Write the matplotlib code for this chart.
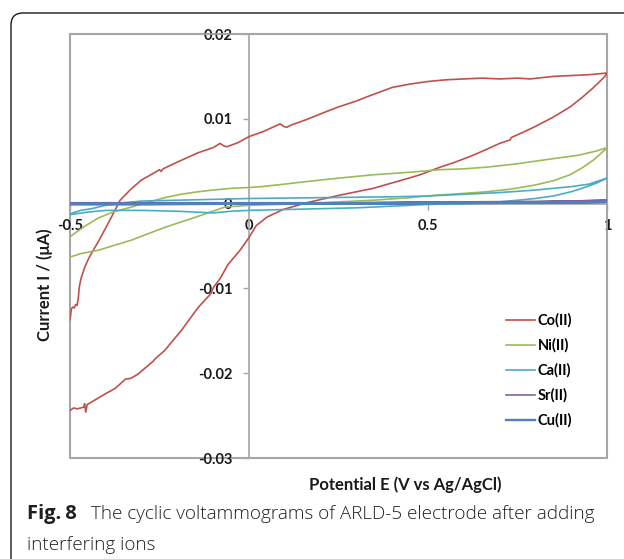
import matplotlib
matplotlib.use("Agg")
import matplotlib.pyplot as plt
from matplotlib.patches import FancyBboxPatch, Rectangle
from matplotlib.transforms import IdentityTransform

# cyclic voltammograms, potential (V) and current
co_e = [-0.500, -0.496, -0.492, -0.488, -0.484, -0.480, -0.477, -0.474, -0.469, -0.458,
        -0.447, -0.435, -0.421, -0.393, -0.360, -0.330, -0.300, -0.270, -0.250, -0.246,
        -0.240, -0.200, -0.142, -0.100, -0.081, -0.070, -0.062, -0.030, 0.000, 0.040,
        0.087, 0.097, 0.105, 0.120, 0.160, 0.207, 0.250, 0.300, 0.330, 0.400,
        0.450, 0.500, 0.550, 0.600, 0.650, 0.700, 0.750, 0.785, 0.850, 0.900,
        0.950, 1.000,
        0.994, 0.980, 0.960, 0.930, 0.897, 0.850, 0.800, 0.765, 0.733, 0.729,
        0.700, 0.664, 0.620, 0.570, 0.534, 0.478, 0.430, 0.347, 0.254, 0.161,
        0.095, 0.050, 0.020, 0.000, -0.025, -0.059, -0.080, -0.098, -0.102, -0.106,
        -0.141, -0.188, -0.235, -0.262, -0.268, -0.310, -0.330, -0.345, -0.374, -0.400,
        -0.440, -0.452, -0.456, -0.459, -0.462, -0.470, -0.480, -0.490, -0.500]
co_i = [-0.0137, -0.0124, -0.0122, -0.0123, -0.0119, -0.0120, -0.0112, -0.0098, -0.0088, -0.0074,
        -0.0064, -0.0055, -0.0045, -0.0023, 0.0004, 0.0017, 0.0028, 0.0035, 0.0040, 0.0038,
        0.0041, 0.0049, 0.0060, 0.0066, 0.0071, 0.0068, 0.0067, 0.0072, 0.0079, 0.0085,
        0.0094, 0.0091, 0.0090, 0.0093, 0.0099, 0.0107, 0.0114, 0.0121, 0.0126, 0.0137,
        0.0141, 0.0144, 0.0146, 0.0147, 0.0148, 0.0147, 0.0148, 0.0147, 0.0150, 0.0151,
        0.0152, 0.0154,
        0.0150, 0.0144, 0.0136, 0.0125, 0.0114, 0.0102, 0.0091, 0.0084, 0.0078, 0.0075,
        0.0071, 0.0064, 0.0056, 0.0048, 0.0043, 0.0034, 0.0028, 0.0018, 0.0010, 0.0001,
        -0.0007, -0.0016, -0.0026, -0.0040, -0.0055, -0.0072, -0.0088, -0.0098, -0.0101, -0.0106,
        -0.0122, -0.0149, -0.0173, -0.0183, -0.0186, -0.0201, -0.0206, -0.0207, -0.0218, -0.0224,
        -0.0234, -0.0237, -0.0246, -0.0236, -0.0240, -0.0241, -0.0242, -0.0241, -0.0244]

ni_e = [-0.500, -0.460, -0.421, -0.380, -0.328, -0.280, -0.235, -0.190, -0.142, -0.100,
        -0.049, 0.000, 0.035, 0.100, 0.161, 0.250, 0.347, 0.450, 0.534, 0.600,
        0.664, 0.750, 0.850, 0.920, 0.970, 1.000,
        0.980, 0.961, 0.930, 0.897, 0.850, 0.800, 0.730, 0.664, 0.600, 0.524,
        0.450, 0.347, 0.250, 0.161, 0.080, 0.000, -0.067, -0.142, -0.235, -0.328,
        -0.421, -0.470, -0.500]
ni_i = [-0.0039, -0.0027, -0.0017, -0.0010, -0.0004, 0.0002, 0.0007, 0.0011, 0.0014, 0.0016,
        0.0018, 0.0019, 0.0020, 0.0023, 0.0026, 0.0030, 0.0034, 0.0037, 0.0040, 0.0041,
        0.0043, 0.0047, 0.0053, 0.0057, 0.0062, 0.0066,
        0.0058, 0.0051, 0.0042, 0.0034, 0.0027, 0.0022, 0.0017, 0.0014, 0.0012, 0.0010,
        0.0007, 0.0004, 0.0002, 0.0000, -0.0001, -0.0002, -0.0004, -0.0015, -0.0028, -0.0043,
        -0.0055, -0.0059, -0.0063]

ca_e = [-0.500, -0.470, -0.440, -0.400, -0.350, -0.300, -0.200, -0.100, 0.000, 0.200,
        0.400, 0.500, 0.600, 0.700, 0.800, 0.900, 0.950, 0.970, 1.000,
        0.970, 0.930, 0.900, 0.850, 0.800, 0.700, 0.600, 0.500, 0.400, 0.300,
        0.200, 0.100, 0.000, -0.050, -0.100, -0.150, -0.200, -0.300, -0.400, -0.450,
        -0.500]
ca_i = [-0.0012, -0.0008, -0.0006, -0.0002, 0.0001, 0.0003, 0.0004, 0.0005, 0.0006, 0.0007,
        0.0008, 0.0009, 0.0011, 0.0013, 0.0016, 0.0020, 0.0023, 0.0026, 0.0030,
        0.0024, 0.0018, 0.0014, 0.0009, 0.0006, 0.0002, 0.0000, -0.0001, -0.0003, -0.0005,
        -0.0006, -0.0007, -0.0008, -0.0009, -0.0011, -0.0010, -0.0009, -0.0008, -0.0008, -0.0010,
        -0.0013]

sr_e = [-0.5, -0.3, 0.0, 0.3, 0.6, 0.8, 0.9, 1.0, 0.9, 0.6, 0.3, 0.0, -0.3, -0.5]
sr_i = [0.0001, 0.0001, 0.0001, 0.0001, 0.0002, 0.0002, 0.0003, 0.0004,
        0.0003, 0.0002, 0.0001, 0.0000, 0.0000, 0.0000]

cu_e = [-0.5, -0.2, 0.2, 0.6, 0.9, 1.0, 0.8, 0.4, 0.0, -0.3, -0.5]
cu_i = [0.0000, 0.0000, 0.0000, 0.0001, 0.0001, 0.0002, 0.0001, 0.0000, 0.0000, -0.0001, -0.0001]

labels = ['Co(II)', 'Ni(II)', 'Ca(II)', 'Sr(II)', 'Cu(II)']
colors = ['#C0504D', '#9BBB59', '#4BACC6', '#8064A2', '#4F81BD']

plt.rcParams['font.family'] = ['Lato', 'DejaVu Sans']
grey = '#A6A6A6'

fig = plt.figure(figsize=(6.24, 5.59), dpi=100)
ax = fig.add_axes([70/624, 1 - 458/559, 537/624, 424/559])

series = [(co_e, co_i), (ni_e, ni_i), (ca_e, ca_i), (sr_e, sr_i), (cu_e, cu_i)]
for (e, i), lab, c in zip(series, labels, colors):
    lw = 1.7 if lab == 'Cu(II)' else 1.2
    ax.plot(e, i, color=c, lw=lw, label=lab, zorder=3)

ax.set_xlim(-0.5, 1)
ax.set_ylim(-0.03, 0.02)
ax.set_xticks([-0.5, 0, 0.5, 1])
ax.set_xticklabels(['-0.5', '0', '0.5', '1'])
ax.set_yticks([-0.03, -0.02, -0.01, 0, 0.01, 0.02])
ax.set_yticklabels(['-0.03', '-0.02', '-0.01', '0', '0.01', '0.02'])

# axes cross at the origin, outer box drawn separately
ax.spines['left'].set_position(('data', 0))
ax.spines['bottom'].set_position(('data', 0))
for s in ax.spines.values():
    s.set_color(grey)
    s.set_linewidth(1.2)
ax.add_patch(Rectangle((0, 0), 1, 1, transform=ax.transAxes, fill=False,
                       edgecolor=grey, lw=1.5, zorder=1, clip_on=False))
ax.tick_params(axis='both', colors=grey, length=4, width=1, labelcolor='#1a1a1a',
               labelsize=10.5)
ax.tick_params(axis='x', pad=7)
ax.tick_params(axis='y', pad=8)
for t in ax.get_xticklabels() + ax.get_yticklabels():
    t.set_fontweight('bold')

leg = ax.legend(loc='upper left', bbox_to_anchor=(499/624, 1 - 306/559),
                bbox_transform=fig.transFigure, frameon=False, borderpad=0,
                handlelength=2.0, handletextpad=0.15, labelspacing=0.72,
                prop={'weight': 'bold', 'size': 10.5})

fig.text(405/624, 1 - 485/559, 'Potential E (V vs Ag/AgCl)', ha='center', va='center',
         fontsize=12, fontweight='bold', color='#1a1a1a')
fig.text(45/624, 1 - 285/559, 'Current I / (\u03bcA)', ha='center', va='center',
         rotation=90, fontsize=12, fontweight='bold', color='#1a1a1a')

# caption
cap = dict(color='#231F20', va='center', family=['Open Sans', 'DejaVu Sans'])
fig.text(27/624, 1 - 514/559, 'Fig.\u20098', fontweight='bold', fontsize=14.5, **cap)
fig.text(91/624, 1 - 514/559, 'The cyclic voltammograms of ARLD-5 electrode after adding',
         fontweight='light', fontsize=13.6, **cap)
fig.text(27/624, 1 - 545/559, 'interfering ions', fontweight='light', fontsize=13.6, **cap)

frame = FancyBboxPatch((11, -40), 700, 546 + 40, boxstyle='round,pad=0,rounding_size=12',
                       transform=IdentityTransform(), fill=False, edgecolor='#1a1a1a', lw=1.0)
fig.add_artist(frame)

fig.savefig('out.png', dpi=100)
